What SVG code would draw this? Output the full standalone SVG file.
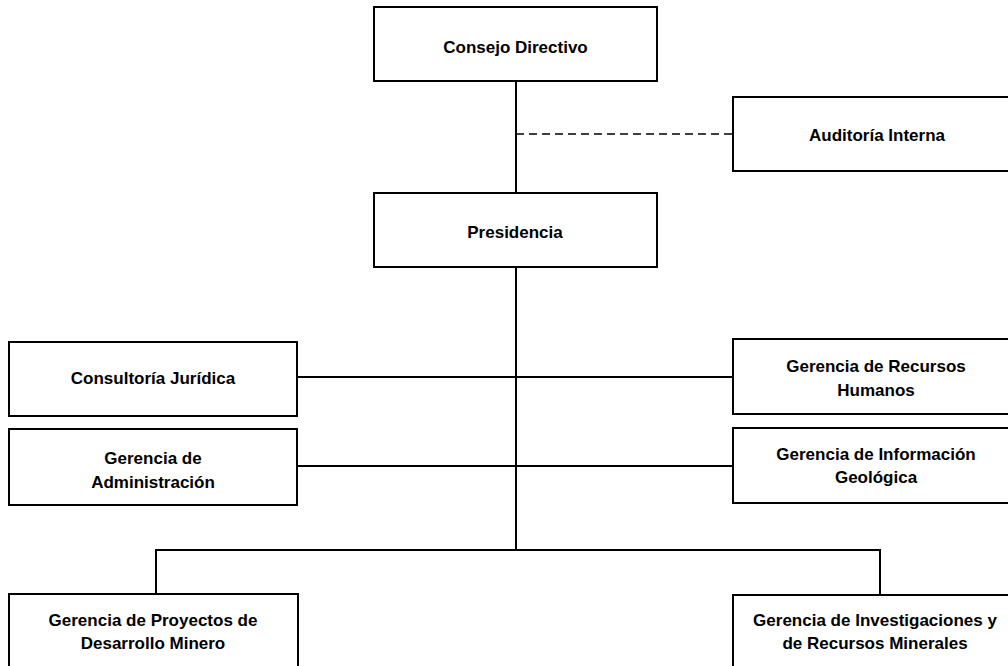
<svg xmlns="http://www.w3.org/2000/svg" width="1008" height="666" viewBox="0 0 1008 666">
<style>
.box{fill:#fff;stroke:#000;stroke-width:2}
.t{font-family:"Liberation Sans",Arial,sans-serif;font-weight:bold;font-size:17px;fill:#000;text-anchor:middle}
.ln{stroke:#000;stroke-width:2;fill:none}
.dash{stroke:#000;stroke-width:1.5;stroke-dasharray:8 5;fill:none}
</style>
<rect width="1008" height="666" fill="#fff"/>
<g id="connectors">
<line class="ln" x1="516" y1="81" x2="516" y2="193"/>
<line class="dash" x1="516" y1="134" x2="733" y2="134"/>
<line class="ln" x1="516" y1="267" x2="516" y2="550"/>
<line class="ln" x1="297" y1="377" x2="733" y2="377"/>
<line class="ln" x1="297" y1="466" x2="733" y2="466"/>
<polyline class="ln" points="156,594 156,550 880,550 880,595"/>
</g>
<g id="consejo"><rect class="box" x="374" y="7" width="283" height="74"/><text class="t" x="515.5" y="53">Consejo Directivo</text></g>
<g id="auditoria"><rect class="box" x="733" y="97" width="290" height="74"/><text class="t" x="877" y="141">Auditoría Interna</text></g>
<g id="presidencia"><rect class="box" x="374" y="193" width="283" height="74"/><text class="t" x="515" y="238">Presidencia</text></g>
<g id="consultoria"><rect class="box" x="9" y="342" width="288" height="74"/><text class="t" x="153" y="384">Consultoría Jurídica</text></g>
<g id="rrhh"><rect class="box" x="733" y="339" width="290" height="75"/><text class="t" x="876" y="372">Gerencia de Recursos</text><text class="t" x="876" y="396">Humanos</text></g>
<g id="administracion"><rect class="box" x="9" y="429" width="288" height="76"/><text class="t" x="153" y="464">Gerencia de</text><text class="t" x="153" y="488">Administración</text></g>
<g id="infogeologica"><rect class="box" x="733" y="428" width="290" height="75"/><text class="t" x="876" y="460">Gerencia de Información</text><text class="t" x="876" y="483">Geológica</text></g>
<g id="proyectos"><rect class="box" x="9" y="594" width="289" height="90"/><text class="t" x="153" y="626">Gerencia de Proyectos de</text><text class="t" x="153" y="649">Desarrollo Minero</text></g>
<g id="investigaciones"><rect class="box" x="733" y="595" width="290" height="90"/><text class="t" x="875" y="626">Gerencia de Investigaciones y</text><text class="t" x="875" y="649">de Recursos Minerales</text></g>
</svg>
